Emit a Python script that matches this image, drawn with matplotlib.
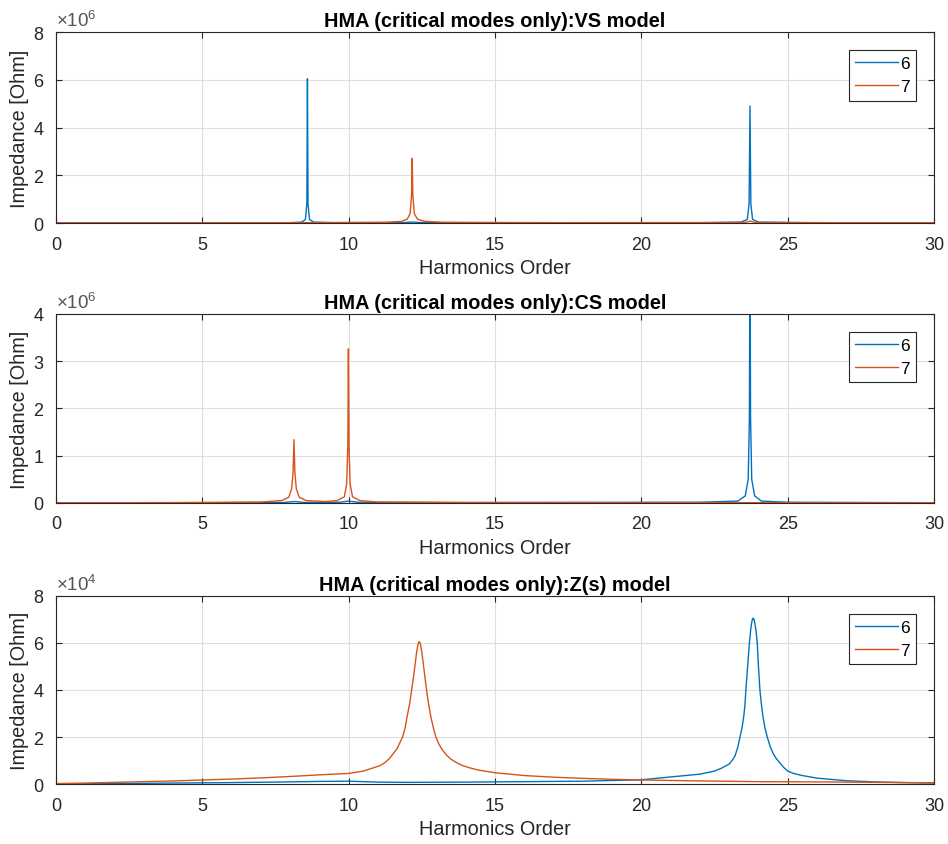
import matplotlib.pyplot as plt
from matplotlib.ticker import FuncFormatter

plt.rcParams['font.family'] = ['Liberation Sans', 'DejaVu Sans']
plt.rcParams['mathtext.fontset'] = 'custom'
plt.rcParams['mathtext.rm'] = 'Liberation Sans'

# colours of the two critical modes
c6 = '#0072BD'
c7 = '#D95319'
txt = '#262626'

modes = ['6', '7']
harm_ticks = [0, 5, 10, 15, 20, 25, 30]

# --- VS model ---
vs_h6 = [0, 4, 8.0, 8.4, 8.52, 8.57, 8.59, 8.61, 8.66, 8.8, 9.5, 11.9, 12.17,
         12.45, 16, 22, 23.4, 23.62, 23.68, 23.71, 23.74, 23.80, 24.0, 26, 30]
vs_z6 = [2e3, 5e3, 1.5e4, 4e4, 1.5e5, 8e5, 6.05e6, 8e5, 1.5e5, 4e4, 1.5e4, 2e4, 4e4,
         2e4, 8e3, 1.2e4, 4e4, 1.5e5, 8e5, 4.9e6, 8e5, 1.5e5, 4e4, 1e4, 4e3]
vs_h7 = [0, 5, 9, 11.3, 11.8, 12.0, 12.1, 12.15, 12.17, 12.19, 12.24, 12.35, 12.6,
         13.2, 17, 23.4, 23.6, 23.71, 23.82, 24.0, 30]
vs_z7 = [3e3, 8e3, 1.5e4, 3e4, 7e4, 1.6e5, 4e5, 1.2e6, 2.71e6, 1.2e6, 4e5, 1.6e5, 7e4,
         3e4, 1.5e4, 2e4, 4e4, 8e4, 4e4, 2e4, 8e3]

# --- CS model ---
cs_h6 = [0, 5, 7.8, 8.13, 8.5, 9.7, 9.99, 10.3, 14, 22, 23.3, 23.55, 23.65, 23.69,
         23.71, 23.73, 23.77, 23.87, 24.1, 25, 30]
cs_z6 = [2e3, 5e3, 1e4, 3e4, 1e4, 1.5e4, 4e4, 1.5e4, 8e3, 1.5e4, 4e4, 1.5e5, 5e5, 1.8e6,
         6e6, 1.8e6, 5e5, 1.5e5, 4e4, 1.5e4, 5e3]
cs_h7 = [0, 4, 7.0, 7.7, 7.95, 8.05, 8.1, 8.13, 8.16, 8.21, 8.31, 8.55, 9.2, 9.6, 9.85,
         9.93, 9.97, 9.99, 10.01, 10.05, 10.13, 10.38, 11, 14, 20, 30]
cs_z7 = [3e3, 8e3, 2e4, 5e4, 1.2e5, 3e5, 6.5e5, 1.34e6, 6.5e5, 3e5, 1.2e5, 5e4, 3e4, 5e4,
         1.3e5, 4e5, 1.2e6, 3.26e6, 1.2e6, 4e5, 1.3e5, 5e4, 2e4, 1e4, 8e3, 5e3]

# --- Z(s) model ---
zs_h6 = [0, 2, 4, 6, 8, 9, 10, 10.5, 11, 12, 14, 16, 18, 20, 21, 22, 22.5, 22.75,
         23, 23.1, 23.2, 23.29, 23.37, 23.44, 23.5, 23.54, 23.57, 23.63, 23.69,
         23.73, 23.76, 23.79, 23.82, 23.85, 23.88, 23.92, 23.96, 24.0, 24.05, 24.1,
         24.15, 24.22, 24.3, 24.4, 24.5, 24.6, 24.7, 24.85, 25, 25.2, 25.5, 26, 27,
         28, 29, 30]
zs_z6 = [0, 200, 400, 600, 900, 1100, 1200, 1000, 800, 700, 800, 1000, 1200, 1800,
         3000, 4200, 5500, 6800, 8500, 10000, 12000, 15500, 20000, 24000, 29000,
         34000, 40000, 50000, 60000, 65000, 68000, 70000, 70600, 70000, 68000,
         65000, 60000, 50000, 40000, 34000, 29000, 24000, 20000, 16000, 13000,
         11000, 9500, 7200, 5500, 4500, 3600, 2500, 1400, 900, 600, 400]
zs_h7 = [0, 1, 2, 3, 4, 5, 6, 7, 8, 9, 10, 10.5, 11.07, 11.25, 11.4, 11.65, 11.84,
         11.93, 12.0, 12.08, 12.15, 12.22, 12.28, 12.32, 12.36, 12.39, 12.41, 12.43,
         12.46, 12.50, 12.54, 12.60, 12.66, 12.73, 12.8, 12.89, 12.98, 13.08, 13.2,
         13.35, 13.5, 13.7, 13.9, 14.1, 14.4, 15, 16, 17, 18, 19, 20, 22, 24, 26,
         28, 30]
zs_z7 = [200, 400, 700, 1000, 1300, 1700, 2100, 2600, 3200, 3900, 4500, 5500, 7800,
         9200, 11000, 15000, 20000, 24000, 29000, 34000, 40000, 46000, 52000,
         56000, 59000, 60200, 60600, 60200, 59000, 56000, 52000, 46000, 40000,
         34000, 29000, 24000, 20000, 17000, 14500, 12200, 10500, 9000, 7800, 7000,
         6000, 4800, 3600, 2900, 2400, 2000, 1700, 1300, 1000, 900, 700, 500]

panels = [
    ('HMA (critical modes only):VS model', (vs_h6, vs_z6), (vs_h7, vs_z7),
     [0, 2e6, 4e6, 6e6, 8e6], 1e6, '6'),
    ('HMA (critical modes only):CS model', (cs_h6, cs_z6), (cs_h7, cs_z7),
     [0, 1e6, 2e6, 3e6, 4e6], 1e6, '6'),
    ('HMA (critical modes only):Z(s) model', (zs_h6, zs_z6), (zs_h7, zs_z7),
     [0, 2e4, 4e4, 6e4, 8e4], 1e4, '4'),
]

fig = plt.figure(figsize=(9.48, 8.45), dpi=100)
boxes = [[0.0591, 0.7349, 0.9262, 0.2260],
         [0.0591, 0.4036, 0.9262, 0.2237],
         [0.0591, 0.0710, 0.9262, 0.2225]]

for box, (title, m6, m7, yticks, scale, expo) in zip(boxes, panels):
    ax = fig.add_axes(box)
    ax.plot(m6[0], m6[1], color=c6, lw=1.0, label=modes[0])
    ax.plot(m7[0], m7[1], color=c7, lw=1.0, label=modes[1])
    ax.set_xlim(0, 30)
    ax.set_ylim(yticks[0], yticks[-1])
    ax.set_xticks(harm_ticks)
    ax.set_yticks(yticks)
    ax.yaxis.set_major_formatter(FuncFormatter(lambda v, p, s=scale: f'{v / s:g}'))
    ax.grid(True, color='#dedede', lw=0.8)
    ax.set_axisbelow(True)
    for sp in ax.spines.values():
        sp.set_color(txt)
        sp.set_linewidth(0.8)
    ax.tick_params(direction='in', top=True, right=True, length=4, width=0.8,
                   color=txt, labelcolor=txt, labelsize=13, pad=9)
    ax.set_title(title, fontsize=14.3, fontweight='bold', pad=4)
    ax.set_xlabel('Harmonics Order', fontsize=14.3, color=txt, labelpad=4)
    ax.set_ylabel('Impedance [Ohm]', fontsize=14.3, color=txt, labelpad=3)
    ax.text(0.0, 1.012, r'$\times\mathregular{10^{%s}}$' % expo, transform=ax.transAxes,
            fontsize=13.5, color='#555555', ha='left', va='bottom')
    leg = ax.legend(loc='upper right', fontsize=12.5, fancybox=False, framealpha=1,
                    edgecolor=txt, borderaxespad=1.05, handlelength=2.5,
                    handletextpad=0.1, labelspacing=0.45, borderpad=0.35)
    leg.get_frame().set_linewidth(0.8)

fig.savefig('out.png', dpi=100)
